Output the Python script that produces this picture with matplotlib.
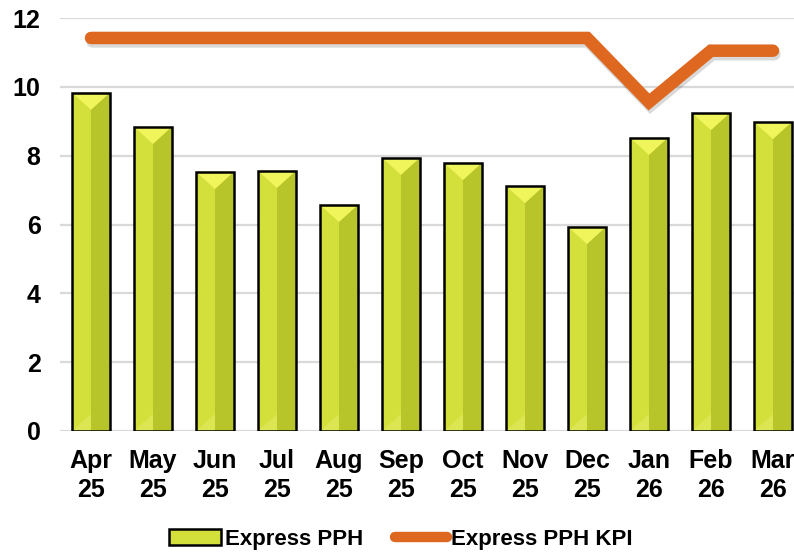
import numpy as np
import matplotlib.pyplot as plt
import matplotlib.patheffects as pe
from matplotlib.patches import Polygon, Rectangle
from matplotlib.lines import Line2D

plt.rcParams.update({'font.family': ['Liberation Sans', 'DejaVu Sans'],
                     'font.weight': 'bold', 'font.size': 18})

months = ['Apr\n25', 'May\n25', 'Jun\n25', 'Jul\n25', 'Aug\n25', 'Sep\n25',
          'Oct\n25', 'Nov\n25', 'Dec\n25', 'Jan\n26', 'Feb\n26', 'Mar\n26']
pph = [9.83, 8.84, 7.53, 7.56, 6.57, 7.94, 7.79, 7.12, 5.93, 8.52, 9.24, 8.98]
pph_kpi = [11.42, 11.42, 11.42, 11.42, 11.42, 11.42, 11.42, 11.42, 11.42,
           9.56, 11.05, 11.05]

BAR_MAIN = '#D3DF3A'
BAR_DARK = '#B7C42A'
BAR_TOP = '#F0F55C'
KPI_COL = '#DE6820'

fig = plt.figure(figsize=(7.94, 5.56), dpi=100)
ax = fig.add_axes([60 / 794, 125 / 556, 744 / 794, 413 / 556])

x = np.arange(len(months))
w = 0.61
bars = ax.bar(x, pph, width=w, color=BAR_MAIN, edgecolor='none', zorder=2)

# bevel shading on each bar (derived from bar values)
tri_h = 0.5
for xi, v in zip(x, pph):
    ax.add_patch(Rectangle((xi, 0), w / 2, v, color=BAR_DARK, lw=0, zorder=2.1))
    ax.add_patch(Polygon([(xi - w / 2, v), (xi + w / 2, v), (xi, v - tri_h)],
                         closed=True, color=BAR_TOP, lw=0, zorder=2.2))
    ax.add_patch(Polygon([(xi - w / 2, 0), (xi, 0), (xi, 0.5)],
                         closed=True, color='#DCE652', lw=0, zorder=2.15))
    ax.add_patch(Rectangle((xi - w / 2, 0), w, v, fill=False, ec='black',
                           lw=1.8, zorder=2.3))

ax.plot(x, pph_kpi, color=KPI_COL, lw=9, solid_capstyle='round',
        solid_joinstyle='miter', zorder=3,
        path_effects=[pe.SimpleLineShadow(offset=(1, -2.5), alpha=0.15, shadow_color='black'),
                      pe.Normal()])

ax.set_xlim(-0.5, 11.5)
ax.set_ylim(0, 12)
ax.set_yticks(np.arange(0, 13, 2))
ax.set_xticks(x)
ax.set_xticklabels(months, fontsize=18, fontweight='bold', linespacing=1.28)
ax.tick_params(axis='both', length=0)
ax.tick_params(axis='y', pad=14, labelsize=18)
ax.tick_params(axis='x', pad=13)
ax.yaxis.grid(True, color='#D9D9D9', lw=1.6, zorder=0)
ax.set_axisbelow(True)
for s in ax.spines.values():
    s.set_visible(False)

handles = [Rectangle((0, 0), 1, 1, fc=BAR_MAIN, ec='black', lw=1.8),
           Line2D([0], [0], color=KPI_COL, lw=7.5, solid_capstyle='round')]
fig.legend(handles, ['Express PPH', 'Express PPH KPI'], loc='center',
           bbox_to_anchor=(401 / 794, 17 / 556), ncol=2, frameon=False,
           handlelength=2.3, handleheight=0.7, handletextpad=0.2,
           columnspacing=1.45, prop={'weight': 'bold', 'size': 16})

fig.savefig('out.png', dpi=100)
